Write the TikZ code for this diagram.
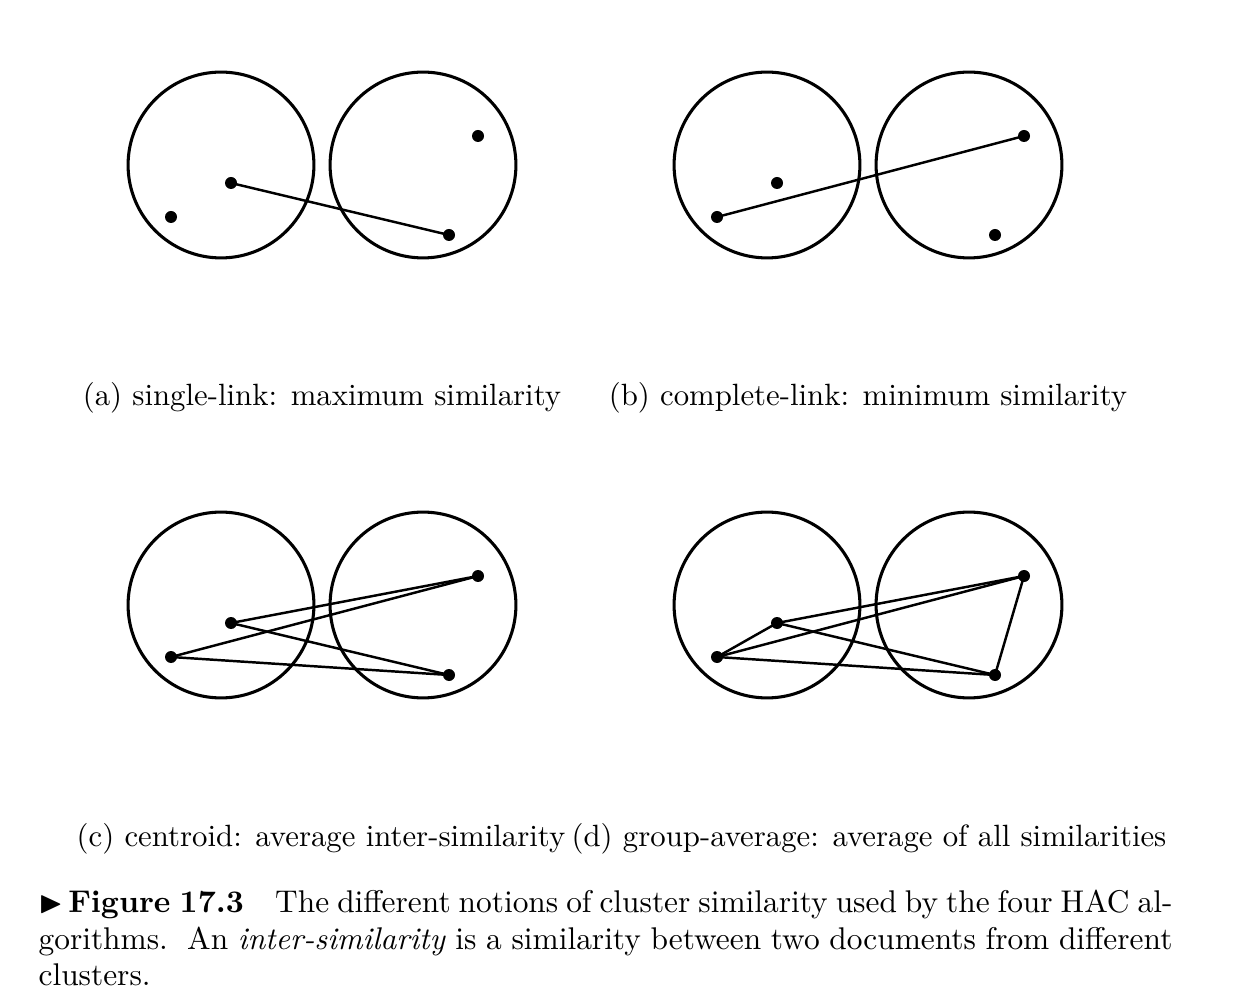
\documentclass[tikz,border=0pt]{standalone}
\usepackage{amssymb}
\begin{document}
\begin{tikzpicture}[x=0.325pt,y=-0.325pt,
  clus/.style={circle,draw,line width=1pt,minimum size=60.4pt,inner sep=0pt},
  doc/.style={circle,fill,inner sep=0pt,minimum size=3.9pt},
  link/.style={line width=0.8pt},
  lab/.style={anchor=base,inner sep=0pt,font=\fontsize{10}{12}\selectfont},
  captext/.style={anchor=base west,inner sep=0pt,font=\fontsize{10.2}{12.2}\selectfont}]
\useasboundingbox (0,0) rectangle (1256,1008);
% panel offsets
\foreach \p/\dx/\dy in {a/0/0,b/546/0,c/0/440,d/546/440}{
  \node[clus] (\p L) at (221+\dx,165+\dy) {};
  \node[clus] (\p R) at (423+\dx,165+\dy) {};
  \node[doc] (\p1) at (231+\dx,183+\dy) {};
  \node[doc] (\p2) at (171+\dx,217+\dy) {};
  \node[doc] (\p3) at (478+\dx,136+\dy) {};
  \node[doc] (\p4) at (449+\dx,235+\dy) {};
}
% (a) single-link
\draw[link] (a1.center) -- (a4.center);
% (b) complete-link
\draw[link] (b2.center) -- (b3.center);
% (c) centroid
\draw[link] (c1.center) -- (c3.center);
\draw[link] (c1.center) -- (c4.center);
\draw[link] (c2.center) -- (c3.center);
\draw[link] (c2.center) -- (c4.center);
% (d) group-average
\draw[link] (d1.center) -- (d2.center);
\draw[link] (d1.center) -- (d3.center);
\draw[link] (d1.center) -- (d4.center);
\draw[link] (d2.center) -- (d3.center);
\draw[link] (d2.center) -- (d4.center);
\draw[link] (d3.center) -- (d4.center);
% labels
\node[lab] (la) at (322,406) {(a) single-link: maximum similarity};
\node[lab] (lb) at (868,406) {(b) complete-link: minimum similarity};
\node[lab] (lc) at (321,846) {(c) centroid: average inter-similarity};
\node[lab] (ld) at (869,846) {(d) group-average: average of all similarities};
% caption
\node[captext] (cap1) at (38,912) {\hbox to 368.5pt{$\blacktriangleright$\,\textbf{Figure 17.3}\quad The different notions of cluster similarity used by the four HAC al-}};
\node[captext] (cap2) at (38,949) {\hbox to 368.5pt{gorithms.\ \ An \textit{inter-similarity} is a similarity between two documents from different}};
\node[captext] (cap3) at (38,985) {clusters.};
\end{tikzpicture}
\end{document}
